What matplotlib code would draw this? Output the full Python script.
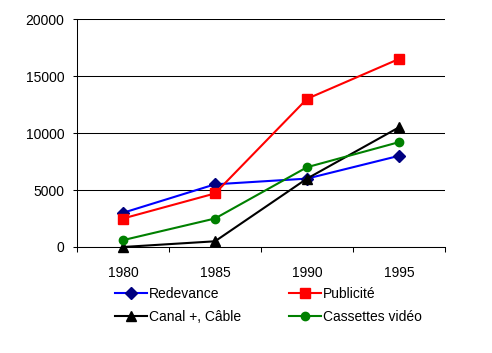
import matplotlib.pyplot as plt

plt.rcParams['font.family'] = ['Liberation Sans', 'DejaVu Sans']

# Data
years = ["1980", "1985", "1990", "1995"]
redevance = [3000, 5500, 6000, 8000]
publicite = [2500, 4700, 13000, 16500]
canal_cable = [0, 500, 6000, 10500]
cassettes = [600, 2500, 7000, 9200]

fig = plt.figure(figsize=(4.92, 3.53), dpi=100)
ax = fig.add_axes([0.1565, 0.3003, 0.748, 0.6457])

x = range(len(years))
l1, = ax.plot(x, redevance, color="#0000FF", lw=1.5, marker="D", ms=6,
              mfc="#000080", mec="#000080", label="Redevance", clip_on=False)
l2, = ax.plot(x, publicite, color="#FF0000", lw=1.5, marker="s", ms=6.5,
              mfc="#FF0000", mec="#FF0000", label="Publicité", clip_on=False)
l3, = ax.plot(x, canal_cable, color="#000000", lw=1.5, marker="^", ms=7.5,
              label="Canal +, Câble", clip_on=False)
l4, = ax.plot(x, cassettes, color="#008000", lw=1.5, marker="o", ms=6,
              label="Cassettes vidéo", clip_on=False)

# Axes
ax.set_xlim(-0.5, 3.5)
ax.set_ylim(0, 20000)
ax.set_yticks([0, 5000, 10000, 15000, 20000])
ax.grid(axis="y", color="black", lw=0.75)
ax.set_axisbelow(True)
ax.set_xticks([-0.5, 0.5, 1.5, 2.5, 3.5])
ax.set_xticklabels([])
ax.set_xticks(list(x), minor=True)
ax.set_xticklabels(years, minor=True)
ax.tick_params(axis="x", which="minor", length=0, labelsize=10, pad=14)
ax.tick_params(axis="x", which="major", length=3.5, direction="out", width=0.75)
ax.tick_params(axis="y", length=3, direction="out", labelsize=10, width=0.75, pad=6)
for side in ["top", "right"]:
    ax.spines[side].set_visible(False)
for side in ["left", "bottom"]:
    ax.spines[side].set_linewidth(0.75)

# legend: row 1 Redevance / Publicité, row 2 Canal / Cassettes
fig.legend([l1, l3, l2, l4], [l1.get_label(), l3.get_label(), l2.get_label(), l4.get_label()],
           loc="upper left", bbox_to_anchor=(0.22, 0.206), ncol=2,
           frameon=False, fontsize=10, handlelength=2.3, handletextpad=0.15,
           columnspacing=3.45, labelspacing=0.65, borderpad=0)

fig.savefig("out.png", dpi=100)
